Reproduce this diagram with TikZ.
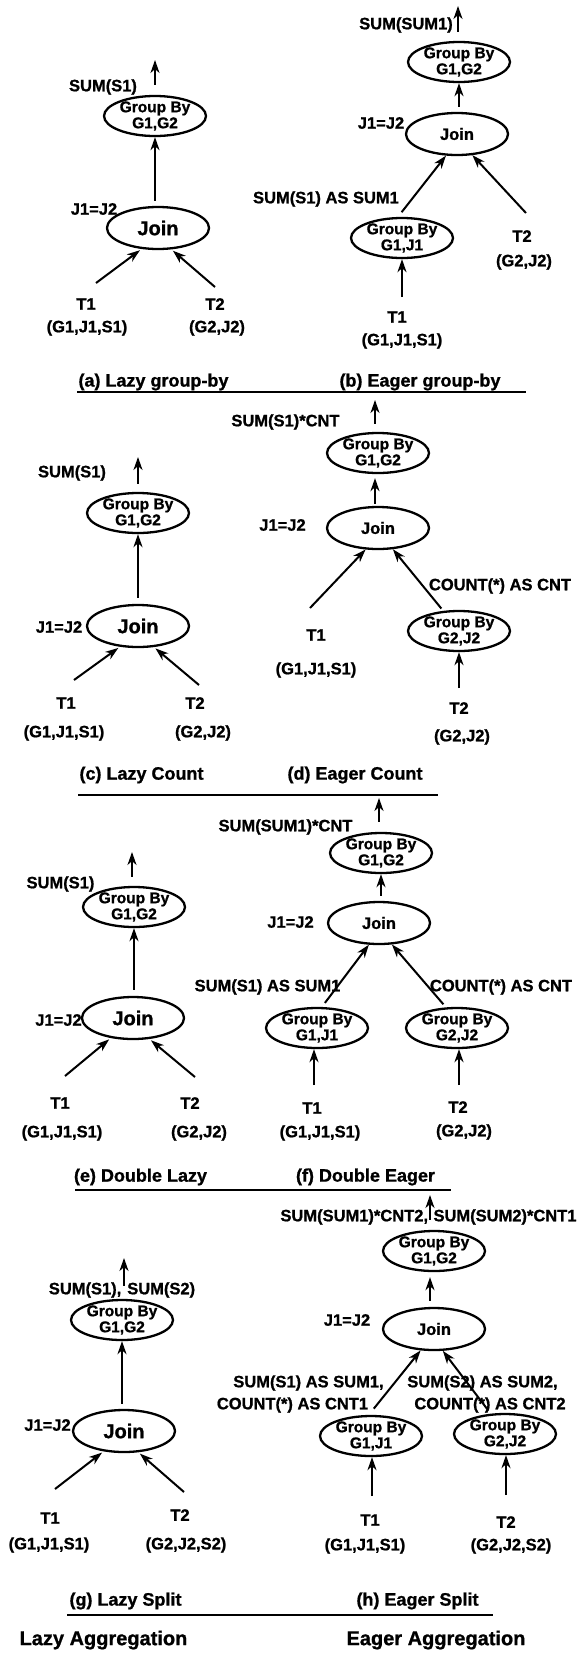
\documentclass[tikz,border=0pt]{standalone}
\usepackage{fontspec}
\setmainfont{Liberation Sans}[BoldFeatures={FakeBold=1.0}]
\usetikzlibrary{shapes.geometric,arrows.meta}
\begin{document}
\begin{tikzpicture}[x=1pt,y=-1pt,
  lbl/.style={font=\fontsize{16.5}{19}\selectfont\bfseries, inner sep=0pt},
  captxt/.style={font=\fontsize{18}{20}\selectfont\bfseries, inner sep=0pt},
  ttl/.style={font=\fontsize{20}{22}\selectfont\bfseries, inner sep=0pt},
  gbnode/.style={draw, ellipse, line width=2.3pt, minimum width=102pt, minimum height=40pt, inner xsep=0pt, inner ysep=-5pt, align=center, font=\fontsize{15.5}{16}\selectfont\bfseries},
  joinbig/.style={draw, ellipse, line width=2.3pt, minimum width=102pt, minimum height=42pt, inner sep=0pt, font=\fontsize{20}{22}\selectfont\bfseries},
  joinsmall/.style={joinbig, font=\fontsize{16.5}{18}\selectfont\bfseries},
  arr/.style={line width=2pt, -{Stealth[length=13pt,width=9pt,inset=4pt]}},
  sepline/.style={line width=2pt}]
\fill[white] (0,0) rectangle (587,1657);
\useasboundingbox (0,0) rectangle (587,1657);

% ---------- (a) ----------
\node[gbnode] (gbA) at (155,116) {Group By\\G1,G2};
\node[joinbig] (joinA) at (158,228) {Join};
\node[lbl] (sumA) at (103,87) {SUM(S1)};
\node[lbl] (jA) at (94,209) {J1=J2};
\node[lbl] (t1A) at (86,304) {T1};
\node[lbl] (r1A) at (87,328) {(G1,J1,S1)};
\node[lbl] (t2A) at (215,304) {T2};
\node[lbl] (r2A) at (217,328) {(G2,J2)};
\coordinate (oA) at (155,60);
\coordinate (p1A) at (96,283);
\coordinate (p2A) at (215,287);
\draw[arr, shorten <=10pt] (gbA.north -| oA) -- (oA);
\draw[arr, shorten <=5pt] (joinA.north -| gbA) -- (gbA.south);
\draw[arr, shorten >=2pt] (p1A) -- (joinA.-128);
\draw[arr, shorten >=2pt] (p2A) -- (joinA.-58);

% ---------- (b) ----------
\node[gbnode] (gbB) at (459,62) {Group By\\G1,G2};
\node[joinsmall] (joinB) at (457,134) {Join};
\node[gbnode] (gbB1) at (402,238) {Group By\\G1,J1};
\node[lbl] (sumB) at (406,25) {SUM(SUM1)};
\node[lbl] (jB) at (381,123) {J1=J2};
\node[lbl] (sB) at (326,199) {SUM(S1) AS SUM1};
\node[lbl] (t1B) at (397,317) {T1};
\node[lbl] (r1B) at (402,341) {(G1,J1,S1)};
\node[lbl] (t2B) at (522,236) {T2};
\node[lbl] (r2B) at (524,262) {(G2,J2)};
\coordinate (oB) at (458,6);
\coordinate (p1B) at (402,297);
\coordinate (p2B) at (526,213);
\draw[arr, shorten <=9pt] (gbB.north -| oB) -- (oB);
\draw[arr, shorten <=5pt] (joinB.north -| gbB) -- (gbB.south);
\draw[arr, shorten <=6pt] (gbB1.101) -- (joinB.-117);
\draw[arr] (p2B) -- (joinB.-54);
\draw[arr] (p1B) -- (gbB1.south);

% captions (a)(b)
\node[captxt] (capA) at (153.5,382) {(a) Lazy group-by};
\node[captxt] (capB) at (420,382) {(b) Eager group-by};
\draw[sepline] (77,392) -- (526,392);

% ---------- (c) ----------
\node[gbnode] (gbC) at (138,513) {Group By\\G1,G2};
\node[joinbig] (joinC) at (138,626) {Join};
\node[lbl] (sumC) at (72,473) {SUM(S1)};
\node[lbl] (jC) at (59,627) {J1=J2};
\node[lbl] (t1C) at (66,703) {T1};
\node[lbl] (r1C) at (64,733) {(G1,J1,S1)};
\node[lbl] (t2C) at (195,703) {T2};
\node[lbl] (r2C) at (203,733) {(G2,J2)};
\coordinate (oC) at (138,457);
\coordinate (p1C) at (74,680);
\coordinate (p2C) at (199,685);
\draw[arr, shorten <=8pt] (gbC.north -| oC) -- (oC);
\draw[arr, shorten <=6pt] (joinC.north -| gbC) -- (gbC.south);
\draw[arr, shorten >=2pt] (p1C) -- (joinC.-131);
\draw[arr, shorten >=2pt] (p2C) -- (joinC.-53);

% ---------- (d) ----------
\node[gbnode] (gbD) at (378,453) {Group By\\G1,G2};
\node[joinsmall] (joinD) at (378,528) {Join};
\node[gbnode] (gbD2) at (459,631) {Group By\\G2,J2};
\node[lbl] (sumD) at (285.5,422) {SUM(S1)*CNT};
\node[lbl] (jD) at (282.5,525) {J1=J2};
\node[lbl] (cntD) at (500,586) {COUNT(*) AS CNT};
\node[lbl] (t1D) at (316,635) {T1};
\node[lbl] (r1D) at (316,670) {(G1,J1,S1)};
\node[lbl] (t2D) at (459,708) {T2};
\node[lbl] (r2D) at (462,737) {(G2,J2)};
\coordinate (oD) at (375,400);
\coordinate (p1D) at (310,608);
\coordinate (p2D) at (459,688);
\draw[arr, shorten <=8pt] (gbD.north -| oD) -- (oD);
\draw[arr, shorten <=2pt, shorten >=4pt] (joinD.north -| oD) -- (gbD.south -| oD);
\draw[arr] (p1D) -- (joinD.-120);
\draw[arr, shorten <=3pt] (gbD2.128) -- (joinD.-55);
\draw[arr] (p2D) -- (gbD2.south);

% captions (c)(d)
\node[captxt] (capC) at (141.5,775) {(c) Lazy Count};
\node[captxt] (capD) at (355,775) {(d) Eager Count};
\draw[sepline] (78,795) -- (438,795);

% ---------- (e) ----------
\node[gbnode] (gbE) at (134,907) {Group By\\G1,G2};
\node[joinbig] (joinE) at (133,1018) {Join};
\node[lbl] (sumE) at (60.5,884) {SUM(S1)};
\node[lbl] (jE) at (58.5,1020) {J1=J2};
\node[lbl] (t1E) at (60,1103) {T1};
\node[lbl] (r1E) at (62,1133) {(G1,J1,S1)};
\node[lbl] (t2E) at (190,1103) {T2};
\node[lbl] (r2E) at (199,1133) {(G2,J2)};
\coordinate (oE) at (132,852);
\coordinate (p1E) at (65,1076);
\coordinate (p2E) at (195,1077);
\draw[arr, shorten <=9pt] (gbE.north -| oE) -- (oE);
\draw[arr, shorten <=6pt] (joinE.north -| gbE) -- (gbE.south);
\draw[arr, shorten >=2pt] (p1E) -- (joinE.-138);
\draw[arr, shorten >=2pt] (p2E) -- (joinE.-52);

% ---------- (f) ----------
\node[gbnode] (gbF) at (381,853) {Group By\\G1,G2};
\node[joinsmall] (joinF) at (379,923) {Join};
\node[gbnode] (gbF1) at (317,1028) {Group By\\G1,J1};
\node[gbnode] (gbF2) at (457,1028) {Group By\\G2,J2};
\node[lbl] (sumF) at (285.5,827) {SUM(SUM1)*CNT};
\node[lbl] (jF) at (290.5,922) {J1=J2};
\node[lbl] (sF) at (267.5,987) {SUM(S1) AS SUM1};
\node[lbl] (cF) at (501,987) {COUNT(*) AS CNT};
\node[lbl] (t1F) at (312,1108) {T1};
\node[lbl] (r1F) at (320,1133) {(G1,J1,S1)};
\node[lbl] (t2F) at (458,1107) {T2};
\node[lbl] (r2F) at (464,1132) {(G2,J2)};
\coordinate (oF) at (379,798);
\coordinate (p1F) at (314,1085);
\coordinate (p2F) at (459,1085);
\draw[arr, shorten <=10pt] (gbF.north -| oF) -- (oF);
\draw[arr, shorten <=5pt] (joinF.north -| gbF) -- (gbF.south);
\draw[arr, shorten <=5pt] (gbF1.77) -- (joinF.-115);
\draw[arr, shorten <=4pt] (gbF2.118) -- (joinF.-59);
\draw[arr] (p1F) -- (gbF1.south -| p1F);
\draw[arr] (p2F) -- (gbF2.south -| p2F);

% captions (e)(f)
\node[captxt] (capE) at (140.5,1177) {(e) Double Lazy};
\node[captxt] (capF) at (365.5,1177) {(f) Double Eager};
\draw[sepline] (75,1190) -- (451,1190);

% ---------- (g) ----------
\node[gbnode] (gbG) at (122,1320) {Group By\\G1,G2};
\node[joinbig] (joinG) at (124,1431) {Join};
\node[lbl] (sumG) at (122,1290) {SUM(S1),\hspace{6pt}SUM(S2)};
\node[lbl] (jG) at (47.5,1425) {J1=J2};
\node[lbl] (t1G) at (50,1518) {T1};
\node[lbl] (r1G) at (49,1545) {(G1,J1,S1)};
\node[lbl] (t2G) at (180,1515) {T2};
\node[lbl] (r2G) at (186,1545) {(G2,J2,S2)};
\coordinate (oG) at (124,1258);
\coordinate (p1G) at (55,1489);
\coordinate (p2G) at (184,1492);
\draw[arr, shorten <=13pt] (gbG.north -| oG) -- (oG);
\draw[arr, shorten <=5pt] (joinG.north -| gbG) -- (gbG.south);
\draw[arr, shorten >=2pt] (p1G) -- (joinG.-135);
\draw[arr, shorten >=2pt] (p2G) -- (joinG.-56);

% ---------- (h) ----------
\node[gbnode] (gbH) at (434,1251) {Group By\\G1,G2};
\node[joinsmall] (joinH) at (434,1329) {Join};
\node[gbnode] (gbH1) at (371,1436) {Group By\\G1,J1};
\node[gbnode] (gbH2) at (505,1434) {Group By\\G2,J2};
\node[lbl] (sumH) at (428.5,1217) {SUM(SUM1)*CNT2,\hspace{5.5pt}SUM(SUM2)*CNT1};
\node[lbl] (jH) at (347,1320) {J1=J2};
\node[lbl] (s1H) at (308.5,1383) {SUM(S1) AS SUM1,};
\node[lbl] (k1H) at (292.5,1405) {COUNT(*) AS CNT1};
\node[lbl] (s2H) at (482.5,1383) {SUM(S2) AS SUM2,};
\node[lbl] (k2H) at (490,1405) {COUNT(*) AS CNT2};
\node[lbl] (t1H) at (370,1520) {T1};
\node[lbl] (r1H) at (365,1546) {(G1,J1,S1)};
\node[lbl] (t2H) at (506,1522) {T2};
\node[lbl] (r2H) at (511,1546) {(G2,J2,S2)};
\coordinate (oH) at (430,1195);
\coordinate (p1H) at (372,1496);
\coordinate (p2H) at (506,1495);
\draw[arr, shorten <=10pt] (gbH.north -| oH) -- (oH);
\draw[arr, shorten <=6pt, shorten >=5pt] (joinH.north -| oH) -- (gbH.south -| oH);
\draw[arr, shorten <=8pt] (gbH1.96) -- (joinH.-122);
\draw[arr, shorten <=4pt] (gbH2.125) -- (joinH.-68);
\draw[arr] (p1H) -- (gbH1.south -| p1H);
\draw[arr] (p2H) -- (gbH2.south -| p2H);

% captions (g)(h)
\node[captxt] (capG) at (125.5,1601) {(g) Lazy Split};
\node[captxt] (capH) at (417.5,1601) {(h) Eager Split};
\draw[sepline] (67,1615) -- (493,1615);

\node[ttl] (lazyT) at (103.5,1640) {Lazy Aggregation};
\node[ttl] (eagerT) at (436,1640) {Eager Aggregation};
\end{tikzpicture}
\end{document}
